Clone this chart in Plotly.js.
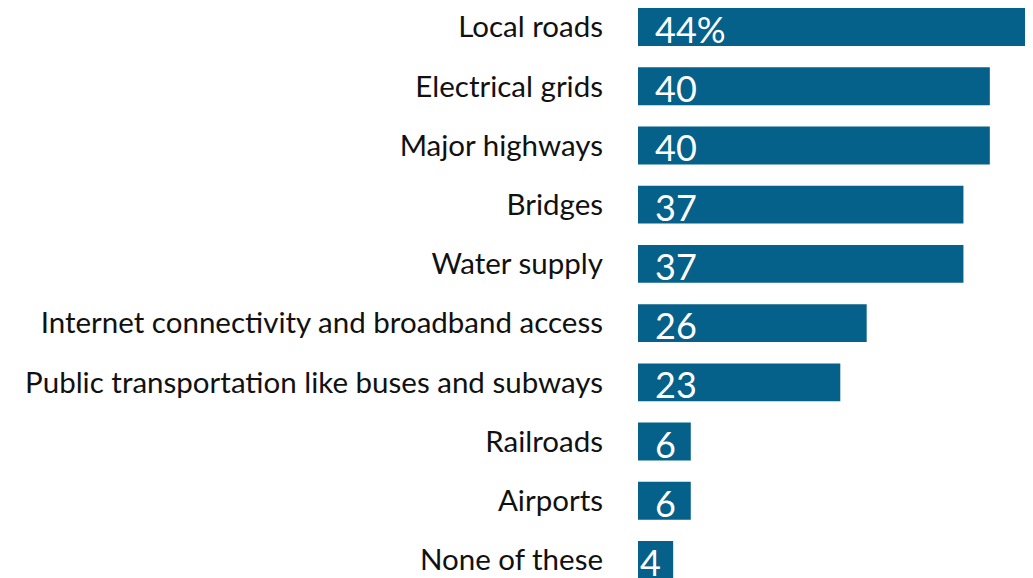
<!DOCTYPE html>
<html>
<head>
<meta charset="utf-8">
<script src="https://cdn.plot.ly/plotly-3.0.1.min.js"></script>
<style>html,body{margin:0;padding:0;background:#fff;}#chart{width:1033px;height:578px;}</style>
</head>
<body>
<div id="chart"></div>
<script>
const categories = ["Local roads","Electrical grids","Major highways","Bridges","Water supply","Internet connectivity and broadband access","Public transportation like buses and subways","Railroads","Airports","None of these"];
const values = [44,40,40,37,37,26,23,6,6,4];
const valueLabels = ["44%","40","40","37","37","26","23","6","6","4"];

const barColor = "#05608a";
const fontFam = "Lato, 'Open Sans', sans-serif";

const trace = {
  type: "bar",
  orientation: "h",
  x: values,
  y: categories,
  marker: {color: barColor},
  width: 0.64,
  hoverinfo: "skip"
};

const annotations = categories.map((c, i) => ({
  x: 0, y: c, xref: "x", yref: "y",
  text: valueLabels[i],
  showarrow: false,
  xanchor: "left",
  yanchor: "middle",
  xshift: values[i] < 5 ? 0 : 15,
  yshift: -2,
  font: {family: fontFam, size: 36, color: "#ffffff"}
}));

const layout = {
  width: 1033, height: 578,
  margin: {l: 638, r: 8, t: 0, b: 0, pad: 0},
  paper_bgcolor: "#ffffff",
  plot_bgcolor: "#ffffff",
  showlegend: false,
  xaxis: {range: [0, 44], visible: false, fixedrange: true},
  yaxis: {
    type: "category",
    range: [9.304, -0.456],
    showgrid: false, zeroline: false, showline: false,
    ticks: "",
    ticklabelstandoff: 34,
    tickfont: {family: fontFam, size: 29.5, color: "#111111"},
    fixedrange: true
  },
  annotations: annotations
};

Plotly.newPlot("chart", [trace], layout, {displayModeBar: false, staticPlot: true});
</script>
</body>
</html>
